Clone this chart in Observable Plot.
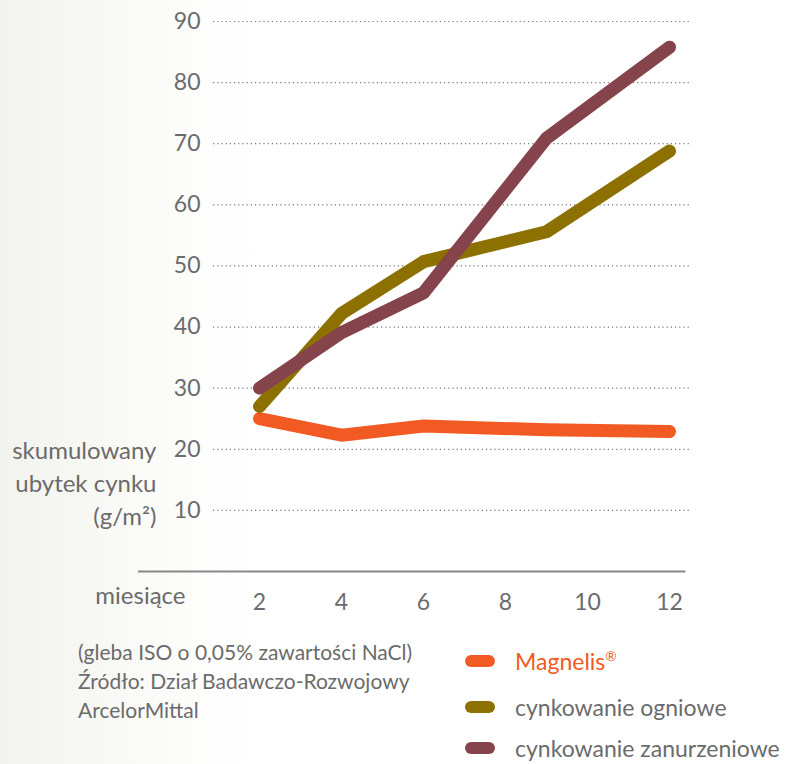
<!DOCTYPE html>
<html>
<head>
<meta charset="utf-8">
<script src="https://cdn.jsdelivr.net/npm/d3@7"></script>
<script src="https://cdn.jsdelivr.net/npm/@observablehq/plot@0.6"></script>
<style>
  html, body { margin: 0; padding: 0; }
  body {
    width: 793px; height: 764px; overflow: hidden;
    background: linear-gradient(90deg, #f2f2ee 0px, #f7f7f4 90px, #fdfdfc 200px, #ffffff 260px);
    font-family: Lato, "Open Sans", sans-serif;
  }
  #chart svg { display: block; background: transparent; }
  #below { position: relative; width: 793px; height: 134px; }
  #caption { position: absolute; left: 78px; top: 7px; font-size: 21px; line-height: 29px; color: #6b6b6b; white-space: nowrap; }
  .leg { position: absolute; left: 465px; height: 22px; line-height: 22px; display: flex; align-items: center; font-size: 23px; color: #6b6b6b; white-space: nowrap; }
  .sw { width: 30px; height: 12px; border-radius: 6px; margin-right: 20px; flex: none; }
</style>
</head>
<body>
<div id="chart"></div>
<div id="below">
  <div id="caption"></div>
  <div id="legend"></div>
</div>
<script>
// ---- data ----
const months = [2, 4, 6, 9, 12];
const seriesNames = ["Magnelis®", "cynkowanie ogniowe", "cynkowanie zanurzeniowe"];
const magnelis = [25.0, 22.3, 23.8, 23.2, 22.9];
const ogniowe = [27.0, 42.2, 50.7, 55.6, 68.8];
const zanurzeniowe = [30.0, 39.1, 45.6, 70.9, 85.8];
const seriesColors = ["#F15A22", "#8C7000", "#85434B"];
const yTicks = [10, 20, 30, 40, 50, 60, 70, 80, 90];
const xTicks = [2, 4, 6, 8, 10, 12];
const yLabel = "skumulowany\nubytek cynku\n(g/m²)";
const xLabel = "miesiące";
const captionLines = ["(gleba ISO o 0,05% zawartości NaCl)", "Źródło: Dział Badawczo-Rozwojowy", "ArcelorMittal"];

const seriesValues = [magnelis, ogniowe, zanurzeniowe];
const rows = seriesNames.flatMap((name, i) =>
  months.map((m, j) => ({series: name, month: m, value: seriesValues[i][j]})));

const gray = "#6b6b6b";

const plot = Plot.plot({
  width: 793,
  height: 630,
  marginLeft: 213,
  marginRight: 103,
  marginTop: 21,
  marginBottom: 59,
  style: {fontFamily: "Lato, 'Open Sans', sans-serif", background: "transparent"},
  x: {domain: [2, 12], insetLeft: 46, insetRight: 21},
  y: {domain: [0, 90]},
  color: {domain: seriesNames, range: seriesColors},
  marks: [
    Plot.gridY(yTicks, {stroke: "#777", strokeOpacity: 1, strokeWidth: 1.2, strokeDasharray: "1.2,3"}),
    Plot.ruleY([0], {x1: -0.95, x2: 12.4, stroke: "#888", strokeWidth: 2.2}),
    Plot.axisY(yTicks, {tickSize: 0, tickPadding: 13, fontSize: 23, fill: gray, label: null}),
    Plot.axisX(xTicks, {tickSize: 0, tickPadding: 22, fontSize: 23, fill: gray, label: null}),
    Plot.text([xLabel], {frameAnchor: "bottom-left", textAnchor: "end", dx: -28, dy: 32, fontSize: 24, fill: gray}),
    Plot.text([yLabel], {y: [20], frameAnchor: "left", textAnchor: "end", lineAnchor: "top", dx: -57, dy: -14, lineHeight: 1.38, fontSize: 24, fill: gray}),
    Plot.line(rows, {x: "month", y: "value", z: "series", stroke: "series", strokeWidth: 13,
      strokeLinecap: "round", strokeLinejoin: "round"})
  ]
});
document.getElementById("chart").appendChild(plot);

document.getElementById("caption").innerHTML = captionLines.map(t => `<div>${t}</div>`).join("");
const legTops = [20, 66, 107];
document.getElementById("legend").innerHTML = seriesNames.map((n, i) =>
  `<div class="leg" style="top:${legTops[i]}px;${i === 0 ? "color:" + seriesColors[0] : ""}"><div class="sw" style="background:${seriesColors[i]}"></div><span>${n.replace("®", "<sup style='font-size:60%;line-height:0'>®</sup>")}</span></div>`).join("");
</script>
</body>
</html>
